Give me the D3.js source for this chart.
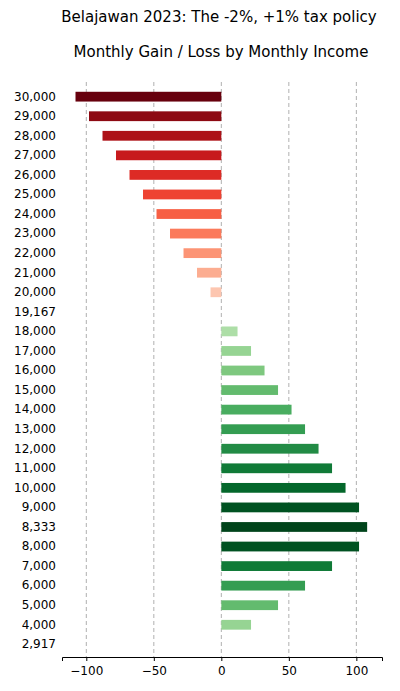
<!DOCTYPE html>
<html><head><meta charset="utf-8">
<script src="https://cdn.jsdelivr.net/npm/d3@7"></script>
<style>body{margin:0;background:#fff;font-family:"DejaVu Sans",sans-serif}</style>
</head><body><div id="chart"></div>
<script>
// monthly income brackets, top to bottom
const incomes = ["30,000","29,000","28,000","27,000","26,000","25,000","24,000","23,000","22,000","21,000","20,000","19,167","18,000","17,000","16,000","15,000","14,000","13,000","12,000","11,000","10,000","9,000","8,333","8,000","7,000","6,000","5,000","4,000","2,917"];
const gains = [-108,-98,-88,-78,-68,-58,-48,-38,-28,-18,-8,0,12,22,32,42,52,62,72,82,92,102,108,102,82,62,42,22,0];
const xTicks = [-100,-50,0,50,100];

const W = 400, H = 691;
const svg = d3.select("#chart").append("svg").attr("width", W).attr("height", H);

svg.append("text").attr("x", 219).attr("y", 22).attr("text-anchor", "middle")
  .attr("font-size", 15).text("Belajawan 2023: The -2%, +1% tax policy");
svg.append("text").attr("x", 221).attr("y", 57).attr("text-anchor", "middle")
  .attr("font-size", 15).text("Monthly Gain / Loss by Monthly Income");

const x = d3.scaleLinear().domain([-118, 119]).range([62, 382]);
const y = d3.scaleBand().domain(incomes).range([82, 659]).padding(0.5);

// grid
svg.selectAll(".grid").data(xTicks).enter().append("line")
  .attr("x1", d => x(d)).attr("x2", d => x(d)).attr("y1", 82).attr("y2", 657)
  .attr("stroke", "#b0b0b0").attr("stroke-dasharray", "4,3");

const color = v => v < 0 ? d3.interpolateReds(0.15 + 0.85 * (-v / 108))
                         : d3.interpolateGreens(0.25 + 0.75 * (v / 108));

svg.selectAll(".bar").data(gains).enter().append("rect")
  .attr("x", d => x(Math.min(0, d))).attr("width", d => Math.abs(x(d) - x(0)))
  .attr("y", (d, i) => y(incomes[i])).attr("height", y.bandwidth())
  .attr("fill", d => color(d));

const xAxis = svg.append("g").attr("transform", "translate(0,657)")
  .call(d3.axisBottom(x).tickValues(xTicks).tickSize(4).tickFormat(d => d < 0 ? "\u2212" + (-d) : d));
xAxis.selectAll("text").attr("font-size", 12).attr("font-family", "DejaVu Sans").attr("dy", "0.9em");

const yAxis = svg.append("g").attr("transform", "translate(62,0)")
  .call(d3.axisLeft(y).tickSize(0).tickPadding(6));
yAxis.select(".domain").remove();
yAxis.selectAll("text").attr("font-size", 12).attr("font-family", "DejaVu Sans");
</script></body></html>
